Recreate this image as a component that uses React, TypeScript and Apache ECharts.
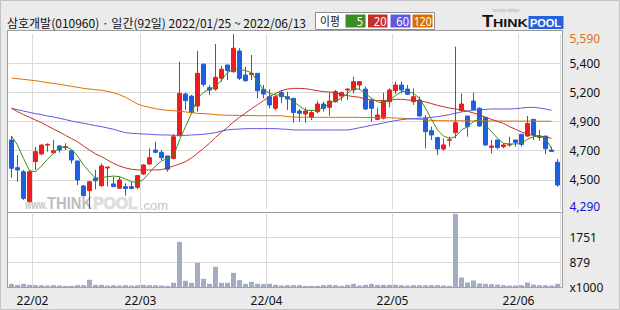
import React, { useEffect, useRef } from "react";
import * as echarts from "echarts";

const dates = [
  "01/25","01/26","01/27","01/28",
  "02/03","02/04","02/07","02/08","02/09","02/10","02/11","02/14","02/15","02/16","02/17","02/18","02/21","02/22","02/23","02/24","02/25","02/28",
  "03/02","03/03","03/04","03/07","03/08","03/10","03/11","03/14","03/15","03/16","03/17","03/18","03/21","03/22","03/23","03/24","03/25","03/28","03/29","03/30","03/31",
  "04/01","04/04","04/05","04/06","04/07","04/08","04/11","04/12","04/13","04/14","04/15","04/18","04/19","04/20","04/21","04/22","04/25","04/26","04/27","04/28","04/29",
  "05/02","05/03","05/04","05/06","05/09","05/10","05/11","05/12","05/13","05/16","05/17","05/18","05/19","05/20","05/23","05/24","05/25","05/26","05/27","05/30","05/31",
  "06/02","06/03","06/07","06/08","06/09","06/10","06/13",
];

// [open, close, low, high]
const ohlc = [
  [4802,4592,4523,4832],[4597,4580,4493,4691],[4567,4369,4357,4580],[4345,4567,4337,4580],
  [4642,4716,4580,4753],[4699,4765,4690,4770],[4765,4770,4716,4778],[4708,4723,4704,4803],
  [4758,4728,4708,4765],[4746,4753,4728,4778],[4723,4654,4629,4723],[4647,4505,4468,4647],
  [4461,4389,4382,4468],[4426,4493,4290,4493],[4518,4500,4436,4580],[4463,4610,4456,4629],
  [4595,4602,4456,4602],[4476,4456,4456,4530],[4444,4505,4444,4530],[4456,4443,4389,4481],
  [4456,4443,4436,4493],[4451,4538,4436,4543],[4550,4617,4543,4622],[4624,4671,4617,4741],
  [4728,4711,4704,4790],[4711,4671,4654,4728],[4684,4585,4567,4684],[4666,4827,4659,4847],
  [4840,5149,4827,5384],[5144,5095,5025,5154],[5129,5006,5001,5137],[5055,5298,5013,5464],
  [5365,5216,5199,5372],[5191,5174,5137,5211],[5181,5268,5169,5516],[5261,5328,5236,5352],
  [5360,5318,5248,5360],[5310,5484,5303,5590],[5464,5261,5248,5484],[5285,5243,5236,5347],
  [5290,5298,5248,5434],[5298,5169,5112,5298],[5179,5144,5112,5211],[5124,5063,5038,5179],
  [5038,5124,5025,5137],[5154,5124,5075,5174],[5124,5107,5025,5162],[5112,5006,4931,5112],
  [5018,5001,4939,5033],[4996,5018,4931,5043],[4971,5006,4951,5025],[5013,5070,5001,5092],
  [5070,5038,5013,5087],[5045,5092,4981,5154],[5087,5162,5080,5174],[5129,5154,5095,5162],
  [5174,5181,5100,5186],[5174,5236,5149,5273],[5211,5236,5174,5236],[5181,5033,5025,5199],
  [5095,5038,4939,5112],[4956,4988,4951,5043],[4964,5092,4956,5154],[5087,5174,5045,5186],
  [5169,5211,5144,5236],[5211,5174,5149,5236],[5181,5142,5137,5211],[5087,5124,5063,5186],
  [5100,4981,4976,5124],[4964,4865,4741,4988],[4872,4840,4803,4902],[4820,4736,4691,4827],
  [4736,4766,4723,4815],[4800,4805,4753,4827],[4857,4931,4815,5496],[5021,5070,5013,5149],
  [4981,4902,4827,4981],[5092,5030,5025,5154],[5038,4907,4902,5045],[4971,4766,4759,4971],
  [4748,4758,4703,4803],[4803,4746,4733,4803],[4753,4766,4741,4778],[4765,4768,4753,4827],
  [4803,4785,4753,4803],[4845,4770,4753,4845],[4832,4926,4827,4981],[4956,4840,4803,4956],
  [4832,4822,4798,4877],[4832,4738,4696,4832],[4728,4718,4716,4753],[4637,4468,4456,4661],
];

const ma5 = [
  4832,4765,4666,4575,4567,4609,4659,4704,4748,4753,
  4733,4684,4617,4567,4518,4523,4530,4535,4530,4513,
  4493,4486,4510,4560,4609,4647,4666,4684,4803,4902,
  5001,5112,5157,5179,5199,5248,5303,5328,5328,5318,
  5303,5236,5179,5149,5137,5137,5120,5087,5055,5025,
  5021,5025,5043,5075,5095,5112,5149,5186,5179,5149,
  5112,5087,5075,5100,5132,5162,5162,5149,5112,5038,
  4956,4877,4832,4815,4827,4877,4902,4939,4956,4914,
  4865,4815,4778,4773,4773,4778,4808,4827,4832,4815,
  4741,null,
];
const ma20 = [
  5038,5014,4991,4971,4951,4931,4907,4884,4862,4837,
  4813,4790,4758,4728,4699,4679,4654,4629,4609,4595,
  4585,4580,4580,4580,4580,4582,4595,4609,4624,4642,
  4669,4704,4741,4778,4822,4862,4897,4936,4971,5003,
  5035,5065,5095,5125,5149,5169,5181,5186,5186,5184,
  5176,5169,5162,5159,5154,5142,5132,5125,5120,5107,
  5100,5095,5095,5100,5105,5105,5100,5097,5095,5085,
  5073,5060,5050,5040,5033,5025,5016,5003,4991,4971,
  4956,4941,4926,4902,4882,4862,4847,4837,4832,4825,
  4815,null,
];
const ma60 = [
  5038,5028,5018,5008,4998,4991,4981,4973,4964,4954,
  4944,4934,4927,4919,4909,4902,4892,4882,4869,4857,
  4852,4850,4847,4845,4842,4840,4840,4837,4837,4837,
  4840,4842,4845,4850,4857,4869,4877,4882,4884,4887,
  4887,4887,4887,4887,4887,4884,4882,4877,4877,4877,
  4877,4877,4877,4877,4877,4877,4877,4884,4894,4902,
  4912,4919,4929,4939,4946,4954,4959,4961,4964,4966,
  4971,4976,4983,4991,5001,5011,5018,5023,5028,5030,
  5033,5033,5033,5033,5035,5040,5045,5045,5040,5033,
  5023,null,
];
const ma120 = [
  5263,5258,5253,5248,5243,5236,5228,5224,5216,5209,
  5201,5194,5186,5181,5176,5172,5164,5154,5139,5120,
  5095,5070,5055,5045,5035,5028,5023,5020,5016,5011,
  5006,5001,4998,4996,4991,4988,4986,4986,4985,4984,
  4984,4983,4983,4983,4983,4983,4976,4973,4972,4972,
  4971,4971,4971,4971,4971,4971,4971,4971,4970,4970,
  4970,4970,4969,4968,4966,4964,4961,4959,4956,4951,
  4949,4946,4946,4945,4945,4945,4944,4944,4944,4944,
  4944,4944,4943,4943,4943,4943,4943,4943,4942,4942,
  4942,null,
];

// volume in thousands
const volume = [
  128,93,128,93,82,82,70,82,70,58,
  58,82,82,269,93,93,70,82,70,82,
  70,82,93,82,82,70,58,164,1600,234,
  164,864,304,128,724,164,164,514,257,128,
  199,128,117,128,93,70,82,82,82,58,
  58,58,82,93,82,58,93,128,70,93,
  128,93,93,93,93,82,70,82,82,82,
  82,82,70,58,2581,350,175,245,140,128,
  117,105,82,70,70,82,175,105,82,82,
  70,128,
];

const priceMin = 4290;
const priceMax = 5590;
const priceLabels = ["4,290", "4,500", "4,700", "4,900", "5,200", "5,400", "5,590"];
const volumeMax = 2627;
const volumeLabels = ["x1000", "879", "1751", ""];
const title = "삼호개발(010960) · 일간(92일) 2022/01/25 ~ 2022/06/13";
const maNames = ["5", "20", "60", "120"];
const maColors = ["#3c8c2c", "#c4302a", "#6058de", "#d87000"];
const maLineColors = ["#3c8c1e", "#c0302a", "#6454dc", "#dc7000"];

const FONT = "Noto Sans";
const KFONT = "Noto Sans CJK KR";
const LFONT = "Liberation Sans";
const GRID_COLOR = "#dadada";
const BORDER_COLOR = "#9c9c9c";

const isMonthStart = (idx: number) =>
  idx > 0 && dates[idx].slice(0, 2) !== dates[idx - 1].slice(0, 2);

export default function App() {
  const ref = useRef<HTMLDivElement>(null);
  useEffect(() => {
    document.body.style.margin = "0";
    if (!ref.current) return;
    const chart = echarts.init(ref.current, null, { renderer: "svg" });
    const splitX = {
      show: true,
      interval: (idx: number) => isMonthStart(idx),
      lineStyle: { color: GRID_COLOR, width: 1 },
    };
    const legendBoxes = [
      { x: 345.5, w: 20, right: 363 },
      { x: 368, w: 19.5, right: 386.5 },
      { x: 390.5, w: 20, right: 409 },
      { x: 412.5, w: 20, right: 431.5 },
    ];
    const legendGraphics: any[] = [];
    legendBoxes.forEach((b, i) => {
      legendGraphics.push({ type: "rect", shape: { x: b.x, y: 14.5, width: b.w, height: 13 }, style: { fill: maColors[i] }, z: 10 });
      legendGraphics.push({
        type: "text", x: b.right, y: 21.5, scaleX: i === 3 ? 0.85 : 0.92, z: 11,
        style: { text: maNames[i], font: `12px "${FONT}"`, fill: "#fff", align: "right", verticalAlign: "middle" },
      });
    });
    chart.setOption({
      animation: false,
      backgroundColor: "#ebebeb",
      grid: [
        { left: 8.5, top: 34, width: 552, height: 175 },
        { left: 8.5, top: 212.5, width: 552, height: 75 },
        { left: 7.5, top: 30.5, width: 555, height: 182, show: true, backgroundColor: "#fff", borderColor: BORDER_COLOR, borderWidth: 1, z: -1 },
        { left: 7.5, top: 212.5, width: 555, height: 75, show: true, backgroundColor: "#fff", borderColor: BORDER_COLOR, borderWidth: 1, z: -1 },
      ],
      xAxis: [
        {
          type: "category", gridIndex: 0, data: dates, boundaryGap: true,
          axisLine: { show: false }, axisTick: { show: false }, axisLabel: { show: false },
          splitLine: splitX,
        },
        {
          type: "category", gridIndex: 1, data: dates, boundaryGap: true,
          axisLine: { show: false }, axisTick: { show: false },
          axisLabel: {
            interval: (idx: number) => isMonthStart(idx),
            formatter: (v: string) => "22/" + v.slice(0, 2),
            color: "#111", fontFamily: FONT, fontSize: 12, margin: 7,
            padding: [0, 6, 0, 0],
          },
          splitLine: splitX,
        },
        { type: "value", gridIndex: 2, show: false },
        { type: "value", gridIndex: 3, show: false },
      ],
      yAxis: [
        { type: "value", gridIndex: 0, min: priceMin, max: priceMax, show: false, splitLine: { show: false } },
        {
          type: "value", gridIndex: 0, min: 0, max: 6, interval: 1, position: "right",
          axisLine: { show: false }, axisTick: { show: false },
          axisLabel: {
            margin: 9, color: "#111", fontFamily: FONT, fontSize: 12,
            formatter: (v: number) => {
              const i = Math.round(v);
              const t = priceLabels[i] ?? "";
              if (i === 6) return `{top|${t}}`;
              if (i === 0) return `{bot|${t}}`;
              return t;
            },
            rich: {
              top: { color: "#d9731f", fontFamily: FONT, fontSize: 12, padding: [8, 0, 0, 0] },
              bot: { color: "#1414d2", fontFamily: FONT, fontSize: 12, padding: [0, 0, 5, 0] },
            },
          },
          splitLine: { show: true, showMinLine: false, showMaxLine: false, lineStyle: { color: GRID_COLOR } },
        },
        { type: "value", gridIndex: 1, min: 0, max: volumeMax, show: false, splitLine: { show: false } },
        {
          type: "value", gridIndex: 1, min: 0, max: 3, interval: 1, position: "right",
          axisLine: { show: false }, axisTick: { show: false },
          axisLabel: {
            margin: 9, color: "#111", fontFamily: FONT, fontSize: 12,
            formatter: (v: number) => volumeLabels[Math.round(v)] ?? "",
          },
          splitLine: { show: true, showMinLine: false, showMaxLine: false, lineStyle: { color: GRID_COLOR } },
        },
        { type: "value", gridIndex: 2, show: false },
        { type: "value", gridIndex: 3, show: false },
      ],
      series: [
        {
          type: "candlestick", xAxisIndex: 0, yAxisIndex: 0, data: ohlc, barWidth: 5, z: 3,
          itemStyle: { color: "#ee1c1c", color0: "#1e5fe0", borderColor: "#ee1c1c", borderColor0: "#1e5fe0", borderWidth: 1 },
        },
        { type: "line", xAxisIndex: 0, yAxisIndex: 0, data: ma120, showSymbol: false, z: 4, lineStyle: { color: maLineColors[3], width: 1 } },
        { type: "line", xAxisIndex: 0, yAxisIndex: 0, data: ma60, showSymbol: false, z: 4, lineStyle: { color: maLineColors[2], width: 1 } },
        { type: "line", xAxisIndex: 0, yAxisIndex: 0, data: ma20, showSymbol: false, z: 4, lineStyle: { color: maLineColors[1], width: 1 } },
        { type: "line", xAxisIndex: 0, yAxisIndex: 0, data: ma5, showSymbol: false, z: 4, lineStyle: { color: maLineColors[0], width: 1 } },
        { type: "bar", xAxisIndex: 1, yAxisIndex: 2, data: volume, barWidth: 5, itemStyle: { color: "#a4acc4" } },
      ],
      graphic: [
        { type: "rect", shape: { x: 0.5, y: 0.5, width: 619, height: 309 }, style: { fill: "none", stroke: "#c2c2c2" }, z: 10 },
        {
          type: "text", x: 7, y: 22, z: 10,
          style: { text: title, font: `12px "${KFONT}"`, fill: "#111", verticalAlign: "middle" },
        },
        { type: "rect", shape: { x: 315.5, y: 12.5, width: 119, height: 17 }, style: { fill: "#fff", stroke: "#8c8c8c" }, z: 10 },
        { type: "text", x: 320, y: 21, scaleX: 0.9, z: 11, style: { text: "이평", font: `12px "${KFONT}"`, fill: "#111", verticalAlign: "middle" } },
        ...legendGraphics,
        // logo
        { type: "text", x: 482, y: 21, scaleX: 1.15, z: 11, style: { text: "T", font: `bold 16px "${LFONT}"`, fill: "#111", verticalAlign: "middle" } },
        { type: "text", x: 493, y: 22.7, scaleX: 1.3, z: 11, style: { text: "HINK", font: `bold 11px "${LFONT}"`, fill: "#111", verticalAlign: "middle" } },
        { type: "rect", shape: { x: 528.5, y: 16, width: 35, height: 13 }, style: { fill: "#2662d9" }, z: 10 },
        { type: "text", x: 545.5, y: 22.7, z: 11, style: { text: "POOL", font: `bold 11px "${LFONT}"`, fill: "#fff", align: "center", verticalAlign: "middle" } },
        { type: "text", x: 506, y: 10.5, scaleX: 0.8, z: 11, style: { text: "concept design", font: `5px "${LFONT}"`, fill: "#b0b0b0", align: "center", verticalAlign: "middle" } },
        // watermark
        { type: "text", x: 25, y: 205, scaleX: 0.72, z: 1, style: { text: "www.", font: `bold 12px "${LFONT}"`, fill: "#c6c6c6", verticalAlign: "middle" } },
        { type: "text", x: 47, y: 203, scaleX: 0.87, z: 1, style: { text: "THINK", font: `bold 17px "${LFONT}"`, fill: "#bdbdbd", verticalAlign: "middle" } },
        { type: "text", x: 93, y: 203, scaleX: 0.93, z: 1, style: { text: "POOL", font: `bold 17px "${LFONT}"`, fill: "#dedede", stroke: "#cfcfcf", lineWidth: 0.6, verticalAlign: "middle" } },
        { type: "text", x: 140, y: 205, z: 1, style: { text: ".com", font: `13px "${LFONT}"`, fill: "#c6c6c6", verticalAlign: "middle" } },
      ],
    });
    return () => chart.dispose();
  }, []);
  return <div ref={ref} style={{ position: "absolute", left: 0, top: 0, width: 620, height: 310 }} />;
}
